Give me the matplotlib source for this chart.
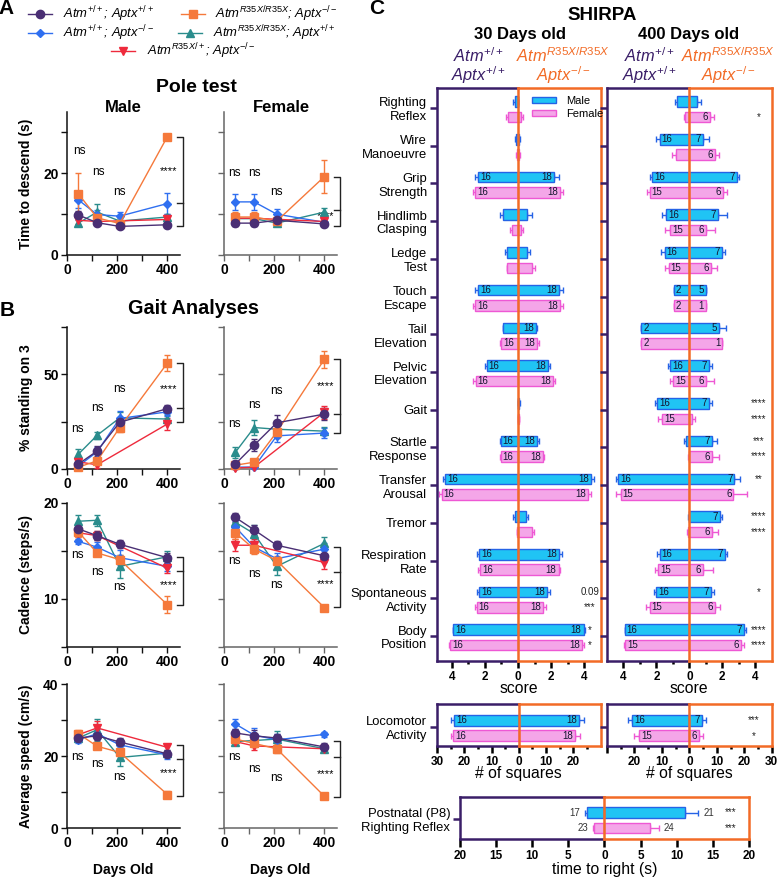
import numpy as np
import matplotlib as mpl
mpl.rcParams['font.family'] = 'Liberation Sans'
mpl.rcParams['mathtext.fontset'] = 'custom'
mpl.rcParams['mathtext.rm'] = 'Liberation Sans'
mpl.rcParams['mathtext.it'] = 'Liberation Sans:italic'
mpl.rcParams['mathtext.bf'] = 'Liberation Sans:bold'
from matplotlib import pyplot as plt
from matplotlib.lines import Line2D
from matplotlib.patches import Patch

W, H = 778, 882

# ---------------- A/B: time courses ----------------
days = [45, 120, 210, 400]
days_het = [45, 120, 400]
# order: Atm+/+;Aptx+/+ | Atm+/+;Aptx-/- | AtmR35X/R35X;Aptx-/- | AtmR35X/R35X;Aptx+/+ | AtmR35X/+;Aptx-/-
geno = [r'$Atm^{+/+}$; $Aptx^{+/+}$', r'$Atm^{+/+}$; $Aptx^{-/-}$',
        r'$Atm^{R35X/R35X}$; $Aptx^{-/-}$', r'$Atm^{R35X/R35X}$; $Aptx^{+/+}$',
        r'$Atm^{R35X/+}$; $Aptx^{-/-}$']

pole_m = [[9.8, 7.9, 7.0, 7.4], [13.5, 9.9, 9.5, 12.6], [15.0, 9.1, 7.7, 29.0],
          [7.8, 10.5, 8.3, 9.3], [8.5, 8.2, 8.7]]
pole_m_err = [[1.0, 0.6, 0.5, 0.5], [2.0, 1.2, 1.0, 2.5], [5.0, 1.0, 0.8, 0.7],
              [0.8, 2.0, 0.8, 0.8], [0.8, 0.8, 1.0]]
pole_f = [[7.8, 7.8, 8.5, 7.6], [13.0, 13.0, 10.0, 8.0], [9.3, 9.3, 8.3, 19.2],
          [8.9, 8.9, 7.8, 10.5], [9.0, 9.0, 8.2]]
pole_f_err = [[0.6, 0.6, 0.6, 0.5], [2.0, 2.0, 1.2, 0.8], [1.2, 1.2, 0.6, 4.0],
              [1.5, 1.5, 0.8, 1.0], [1.0, 1.0, 0.6]]

gait_m = [[2.6, 9.5, 24.7, 31.9], [1.5, 9.1, 26.7, 30.2], [1.0, 4.3, 21.9, 56.0],
          [7.8, 17.8, 27.0, 26.4], [3.8, 2.2, 23.8]]
gait_m_err = [[1.5, 2.5, 2.5, 2.0], [1.0, 2.5, 4.0, 2.0], [0.5, 1.5, 2.5, 4.0],
              [2.5, 2.0, 3.0, 2.0], [1.0, 1.5, 3.0]]
gait_f = [[2.6, 12.6, 24.4, 29.0], [1.0, 1.0, 17.5, 19.0], [2.0, 3.6, 19.5, 58.0],
          [8.8, 21.9, 21.0, 20.0], [0.5, 1.0, 30.0]]
gait_f_err = [[1.0, 3.0, 4.0, 3.0], [0.5, 0.5, 3.0, 2.5], [0.5, 1.0, 3.0, 4.5],
              [3.0, 4.0, 3.0, 2.0], [0.5, 0.5, 3.5]]

cad_m = [[17.3, 16.6, 15.7, 14.3], [16.0, 15.4, 14.3, 13.4], [17.0, 14.8, 14.1, 9.4],
         [18.1, 18.2, 13.4, 14.4], [16.9, 16.6, 13.2]]
cad_m_err = [[0.4, 0.5, 0.4, 0.5], [0.3, 0.5, 0.8, 0.5], [0.5, 0.3, 0.5, 0.9],
             [0.6, 0.6, 1.2, 0.6], [0.4, 0.5, 0.5]]
cad_f = [[18.5, 17.2, 15.6, 14.5], [17.5, 15.4, 14.2, 15.2], [16.9, 15.2, 14.0, 9.1],
         [18.0, 16.8, 13.4, 15.8], [15.6, 15.6, 13.8]]
cad_f_err = [[0.5, 0.5, 0.4, 0.6], [0.6, 0.6, 0.6, 0.6], [0.7, 0.5, 0.5, 0.3],
             [0.7, 0.9, 0.9, 0.7], [0.6, 0.6, 0.7]]

spd_m = [[25.0, 25.6, 23.9, 20.6], [24.5, 26.2, 23.1, 20.3], [26.2, 22.7, 21.0, 9.3],
         [25.0, 27.3, 19.6, 20.8], [25.9, 27.8, 22.4]]
spd_m_err = [[0.8, 1.2, 1.0, 1.0], [1.0, 1.2, 1.5, 1.2], [1.0, 0.8, 1.0, 0.9],
             [0.8, 3.0, 2.5, 0.8], [1.0, 1.8, 1.0]]
spd_f = [[26.4, 25.6, 25.0, 22.5], [28.9, 25.8, 24.5, 26.0], [24.7, 23.5, 22.0, 8.8],
         [24.0, 24.3, 24.7, 22.0], [24.0, 22.8, 22.0]]
spd_f_err = [[1.0, 1.5, 1.0, 1.0], [1.5, 2.0, 1.5, 0.6], [1.0, 1.0, 1.2, 0.6],
             [1.0, 1.0, 2.3, 1.0], [1.0, 1.0, 1.0]]

# ---------------- C: SHIRPA ----------------
cats = ['Righting\nReflex', 'Wire\nManoeuvre', 'Grip\nStrength', 'Hindlimb\nClasping',
        'Ledge\nTest', 'Touch\nEscape', 'Tail\nElevation', 'Pelvic\nElevation', 'Gait',
        'Startle\nResponse', 'Transfer\nArousal', 'Tremor', 'Respiration\nRate',
        'Spontaneous\nActivity', 'Body\nPosition']

# 30 days: L = Atm+/+ Aptx+/+ (plotted leftwards), R = AtmR35X/R35X Aptx-/-
s30_mL = [0.2, 0.1, 2.4, 0.9, 0.65, 2.4, 0.93, 1.9, 0.0, 1.05, 4.42, 0.18, 2.36, 2.36, 3.92]
s30_mL_err = [0.1, 0.1, 0.2, 0.2, 0.15, 0.2, 0.0, 0.1, 0.0, 0.05, 0.13, 0.12, 0.14, 0.14, 0.0]
s30_mR = [0.0, 0.05, 2.2, 0.57, 0.57, 2.5, 1.09, 1.84, 0.05, 1.13, 4.42, 0.48, 2.5, 1.74, 3.96]
s30_mR_err = [0.0, 0.05, 0.25, 0.25, 0.13, 0.2, 0.06, 0.11, 0.05, 0.12, 0.18, 0.14, 0.15, 0.2, 0.09]
s30_fL = [0.6, 0.05, 2.6, 0.38, 0.69, 2.6, 1.0, 2.56, 0.0, 1.05, 4.62, 0.05, 2.3, 2.5, 4.12]
s30_fL_err = [0.1, 0.05, 0.15, 0.12, 0.0, 0.15, 0.1, 0.14, 0.0, 0.05, 0.15, 0.03, 0.1, 0.1, 0.08]
s30_fR = [0.15, 0.05, 2.55, 0.16, 0.83, 2.55, 1.13, 2.1, 0.05, 1.5, 4.22, 0.83, 2.45, 1.54, 3.86]
s30_fR_err = [0.15, 0.05, 0.2, 0.14, 0.17, 0.15, 0.12, 0.15, 0.03, 0.1, 0.18, 0.14, 0.1, 0.16, 0.1]
n30_mL = ['', '', '16', '', '', '16', '', '16', '', '16', '16', '', '16', '16', '16']
n30_mR = ['', '', '18', '', '', '18', '18', '18', '', '18', '18', '', '18', '18', '18']
n30_fL = ['', '', '16', '', '', '16', '16', '16', '', '16', '16', '', '16', '16', '16']
n30_fR = ['', '', '18', '', '', '18', '18', '18', '', '18', '18', '', '18', '18', '18']
p30_m = ['', '', '', '', '', '', '', '', '', '', '', '', '', '0.09', '*']
p30_f = ['', '', '', '', '', '', '', '', '', '', '', '', '', '***', '*']

s400_mL = [0.75, 1.8, 2.26, 1.39, 1.5, 0.95, 2.93, 1.15, 1.96, 0.22, 4.32, 0.05, 1.8, 2.0, 3.92]
s400_mL_err = [0.1, 0.2, 0.14, 0.26, 0.2, 0.0, 0.0, 0.15, 0.14, 0.13, 0.16, 0.05, 0.16, 0.15, 0.0]
s400_mR = [0.47, 0.83, 2.89, 1.74, 2.0, 1.0, 1.82, 1.17, 1.17, 1.37, 2.74, 1.88, 2.14, 1.31, 3.29]
s400_mR_err = [0.23, 0.37, 0.11, 0.56, 0.16, 0.0, 0.38, 0.18, 0.18, 0.3, 0.34, 0.12, 0.16, 0.21, 0.16]
s400_fL = [0.24, 0.83, 2.4, 1.15, 1.25, 0.95, 2.93, 1.0, 1.66, 0.05, 4.18, 0.1, 1.9, 2.4, 3.88]
s400_fL_err = [0.11, 0.22, 0.2, 0.35, 0.25, 0.0, 0.0, 0.15, 0.24, 0.05, 0.3, 0.05, 0.16, 0.25, 0.1]
s400_fR = [1.27, 1.53, 2.04, 1.0, 1.3, 1.0, 2.0, 1.0, 0.16, 1.37, 2.68, 1.39, 0.83, 1.53, 3.15]
s400_fR_err = [0.23, 0.27, 0.26, 0.55, 0.4, 0.0, 0.0, 0.5, 0.2, 0.4, 0.82, 0.35, 0.61, 0.34, 0.15]
n400_mL = ['', '16', '16', '16', '16', '2', '2', '16', '16', '', '16', '', '16', '16', '16']
n400_mR = ['', '7', '7', '7', '7', '5', '5', '7', '7', '7', '7', '7', '7', '7', '7']
n400_fL = ['', '', '15', '15', '15', '2', '2', '15', '15', '', '15', '', '15', '15', '15']
n400_fR = ['6', '6', '6', '6', '6', '1', '1', '6', '', '6', '6', '6', '6', '6', '6']
p400_m = ['', '', '', '', '', '', '', '', '****', '***', '**', '****', '', '*', '****']
p400_f = ['*', '', '', '', '', '', '', '', '****', '****', '', '****', '', '', '****']

# locomotor activity (# of squares)
loco30 = [23.9, 22.2, 24.1, 20.7]          # mL, mR, fL, fR
loco30_err = [0.8, 1.5, 0.9, 1.8]
loco30_n = ['16', '18', '16', '18']
loco400 = [20.9, 4.5, 18.2, 3.6]
loco400_err = [1.6, 1.5, 1.8, 1.3]
loco400_n = ['16', '7', '15', '6']
loco400_p = ['***', '*']

# postnatal P8 righting reflex (s)
p8 = [2.4, 11.1, 1.5, 6.36]
p8_err = [0.3, 1.9, 0.1, 1.14]
p8_n = ['17', '21', '23', '24']
p8_p = ['***', '***']

# ---------------- styles ----------------
COLS = ['#4a2f74', '#2f6ff0', '#f5793b', '#2a8c8c', '#ee2a3c']
MARKS = ['o', 'D', 's', '^', 'v']
MSZ = [6, 4.5, 6, 6, 6]
PURP = '#3a1e68'
ORNG = '#f26b26'
MFC, MEC = '#20c4f4', '#2563e6'
FFC, FEC = '#f4a6e8', '#ee58d4'

fig = plt.figure(figsize=(W / 100, H / 100), dpi=100)


def px_ax(l, t, r, b):
    return fig.add_axes([l / W, 1 - b / H, (r - l) / W, (b - t) / H])


def ftext(x, y, s, **kw):
    fig.text(x / W, 1 - y / H, s, **kw)


def time_panel(ax, vals, errs, ylim, yt, ylab, female, bottom):
    for g in [3, 1, 4, 2, 0]:
        x = days_het if g == 4 else days
        ax.errorbar(x, vals[g], yerr=errs[g], color=COLS[g], marker=MARKS[g], ms=MSZ[g],
                    mec=COLS[g], lw=1, elinewidth=1, capsize=2.5, capthick=1,
                    clip_on=False, zorder=3)
    ax.set_xlim(0, 450)
    ax.set_ylim(*ylim)
    ax.set_xticks([0, 200, 400])
    ax.set_xticks([100, 300], minor=True)
    ax.set_yticks(yt)
    ax.set_yticklabels(ylab)
    sc = '#666666' if female else '#111111'
    for s in ['top', 'right']:
        ax.spines[s].set_visible(False)
    for s in ['left', 'bottom']:
        ax.spines[s].set_color(sc)
        ax.spines[s].set_linewidth(1.1)
    ax.tick_params(which='both', direction='out', length=4, width=1.0, color=sc,
                   labelsize=10, pad=2)
    for lab in ax.get_xticklabels() + ax.get_yticklabels():
        lab.set_fontweight('bold')
    if female:
        ax.tick_params(labelleft=False)
    if bottom:
        ax.set_xlabel('Days Old', fontsize=10, fontweight='bold')
        ax.xaxis.set_label_coords(0.5, -0.245)


def bracket(ax, top, mid, bot, sy):
    ax.plot([440, 461, 461, 440], [top, top, bot, bot], color='#222222', lw=1, clip_on=False)
    ax.plot([440, 461], [mid, mid], color='#222222', lw=1, clip_on=False)
    ax.text(404, sy, '****', ha='center', va='center', fontsize=8)


def ns(ax, pts):
    for x, y in pts:
        ax.text(x, y, 'ns', ha='center', va='center', fontsize=8.5)


male_x = (67, 180)
fem_x = (224, 337)
rows = [(112, 255), (327, 469), (503, 647), (684, 828)]

panels = [
    (pole_m, pole_m_err, pole_f, pole_f_err, (0, 35), [0, 10, 20, 30], ['0', '', '20', ''],
     'Time to descend (s)',
     [(48, 25.5), (125, 20.2), (210, 15.5)], (29.0, 12.8, 7.0, 20.6),
     [(40, 20.0), (120, 20.0), (210, 15.5)], (19.2, 11.0, 7.2, 9.6)),
    (gait_m, gait_m_err, gait_f, gait_f_err, (0, 75), [0, 25, 50, 75], ['0', '', '50', ''],
     '% standing on 3',
     [(40, 21), (120, 32), (210, 42.3)], (55.9, 32.4, 24.6, 42.3),
     [(40, 24), (120, 34), (210, 41)], (58, 29, 19, 43.7)),
    (cad_m, cad_m_err, cad_f, cad_f_err, (5, 20), [5, 10, 15, 20], ['', '10', '', '20'],
     'Cadence (steps/s)',
     [(40, 14.6), (120, 12.8), (210, 11.25)], (14.4, 12.9, 9.4, 11.5),
     [(40, 14.0), (120, 12.6), (210, 11.5)], (15.4, 12.8, 9.2, 11.6)),
    (spd_m, spd_m_err, spd_f, spd_f_err, (0, 40), [0, 10, 20, 30, 40], ['0', '', '20', '', '40'],
     'Average speed (cm/s)',
     [(40, 19.8), (120, 17.8), (210, 14.3)], (23.0, 19.2, 9.0, 15.3),
     [(40, 19.8), (120, 16.5), (210, 13.9)], (24.2, 19.6, 8.6, 15.0)),
]

for i, (vm, em, vf, ef, yl, yt, ylab, ylabel, nsm, brm, nsf, brf) in enumerate(panels):
    t, b = rows[i]
    axm = px_ax(male_x[0], t, male_x[1], b)
    time_panel(axm, vm, em, yl, yt, ylab, False, i == 3)
    axm.set_ylabel(ylabel, fontsize=10, fontweight='bold')
    axm.yaxis.set_label_coords(-0.30, 0.5)
    ns(axm, nsm)
    bracket(axm, *brm)
    axf = px_ax(fem_x[0], t, fem_x[1], b)
    time_panel(axf, vf, ef, yl, yt, ylab, True, i == 3)
    ns(axf, nsf)
    bracket(axf, *brf)

# titles and legend
ftext(196, 87, 'Pole test', ha='center', va='center', fontsize=14, fontweight='bold')
ftext(123, 107, 'Male', ha='center', va='center', fontsize=12, fontweight='bold')
ftext(281, 107, 'Female', ha='center', va='center', fontsize=12, fontweight='bold')
ftext(193, 309, 'Gait Analyses', ha='center', va='center', fontsize=14.3, fontweight='bold')
ftext(6, 9, 'A', ha='center', va='center', fontsize=15, fontweight='bold')
ftext(7, 311, 'B', ha='center', va='center', fontsize=15, fontweight='bold')
ftext(377, 9, 'C', ha='center', va='center', fontsize=15, fontweight='bold')

leg_pos = [(40, 14, 63), (40, 33, 63), (193, 14, 215), (190, 33, 213), (123, 51, 147)]
for g, (mx, my, tx) in enumerate(leg_pos):
    fig.add_artist(Line2D([(mx - 12) / W, (mx + 12) / W], [1 - my / H] * 2, color=COLS[g], lw=1))
    fig.add_artist(Line2D([mx / W], [1 - my / H], color=COLS[g], marker=MARKS[g], ms=MSZ[g],
                          mec=COLS[g], lw=0))
    ftext(tx, my, geno[g], ha='left', va='center', fontsize=9.4, fontstyle='italic')

# ---------------- SHIRPA ----------------


def split_box(ax, xlim, cat_labels, yl):
    x0, x1 = xlim
    ax.set_xlim(x0, x1)
    ax.set_ylim(*yl)
    for s in ['top', 'right', 'bottom']:
        ax.spines[s].set_visible(False)
    ax.spines['left'].set_color(PURP)
    ax.spines['left'].set_linewidth(1.8)
    tr = ax.get_xaxis_transform()
    kw = dict(transform=tr, clip_on=False, lw=1.8, solid_capstyle='projecting', zorder=5)
    ax.plot([x0, 0], [1, 1], color=PURP, **kw)
    ax.plot([x0, 0], [0, 0], color=PURP, **kw)
    ax.plot([0, x1], [1, 1], color=ORNG, **kw)
    ax.plot([0, x1], [0, 0], color=ORNG, **kw)
    ax.plot([x1, x1], [0, 1], color=ORNG, **kw)
    ax.plot([0, 0], [0, 1], color=ORNG, transform=tr, clip_on=False, lw=1.8, zorder=5)
    ax.tick_params(axis='y', color=PURP, width=1.8, length=5, labelsize=9.4, pad=2)
    ax.set_yticks(range(len(cat_labels)))
    if cat_labels[0]:
        ax.set_yticklabels(cat_labels, ha='right', multialignment='right')
    else:
        ax.set_yticklabels([])


def color_xticks(ax, major, minor, shown):
    ax.set_xticks(major)
    ax.set_xticks(minor, minor=True)
    ax.set_xticklabels([('%d' % abs(v)) if v in shown else '' for v in major])
    ax.tick_params(axis='x', which='major', length=5, width=1.8, labelsize=8.5, pad=2)
    ax.tick_params(axis='x', which='minor', length=2.5, width=1.8)
    for tk, v in zip(ax.xaxis.get_major_ticks(), major):
        tk.tick1line.set_color(PURP if v < 0 else ORNG)
    for tk, v in zip(ax.xaxis.get_minor_ticks(), minor):
        tk.tick1line.set_color(PURP if v < 0 else ORNG)
    for lab in ax.get_xticklabels():
        lab.set_fontweight('bold')


def pair_bars(ax, yc, L, Le, R, Re, nL, nR, off, fc, ec, pad, h=0.28):
    y = np.asarray(yc, dtype=float) + off
    L = np.asarray(L, dtype=float)
    R = np.asarray(R, dtype=float)
    z = np.zeros_like(L)
    ax.errorbar(-L, y, xerr=[Le, z], fmt='none', ecolor=ec, elinewidth=1, capsize=2.4,
                capthick=1, zorder=2)
    ax.errorbar(R, y, xerr=[z, Re], fmt='none', ecolor=ec, elinewidth=1, capsize=2.4,
                capthick=1, zorder=2)
    ax.barh(y, -L, height=h, color=fc, edgecolor=ec, lw=1, zorder=3)
    ax.barh(y, R, height=h, color=fc, edgecolor=ec, lw=1, zorder=3)
    for yi, l, r, a, b in zip(y, L, R, nL, nR):
        if a:
            ax.text(-l + pad, yi, a, ha='left', va='center', fontsize=7, color='#151530', zorder=4)
        if b:
            ax.text(r - pad, yi, b, ha='right', va='center', fontsize=7, color='#151530', zorder=4)


def pvals(ax, yc, labs, off, x):
    for yi, s in zip(yc, labs):
        if s:
            ax.text(x, yi + off, s, ha='center', va='center', fontsize=7, color='#222222')


ycat = list(range(len(cats)))
score_ylim = (14.66, -0.53)
M_OFF, F_OFF = -0.17, 0.24

ax30 = px_ax(437, 88, 600.7, 661)
split_box(ax30, (-4.9, 5.0), cats, score_ylim)
pair_bars(ax30, ycat, s30_mL, s30_mL_err, s30_mR, s30_mR_err, n30_mL, n30_mR, M_OFF, MFC, MEC, 0.12)
pair_bars(ax30, ycat, s30_fL, s30_fL_err, s30_fR, s30_fR_err, n30_fL, n30_fR, F_OFF, FFC, FEC, 0.12)
pvals(ax30, ycat, p30_m, M_OFF, 4.35)
pvals(ax30, ycat, p30_f, F_OFF, 4.35)
color_xticks(ax30, [-4, -2, 0, 2, 4], [-3, -1, 1, 3], [-4, -2, 0, 2, 4])
ax30.set_xlabel('score', fontsize=11.3, labelpad=-1)
ax30.legend(handles=[Patch(fc=MFC, ec=MEC, lw=1), Patch(fc=FFC, ec=FEC, lw=1)],
            labels=['Male', 'Female'], loc='upper left', bbox_to_anchor=(0.53, 1.0),
            frameon=False, fontsize=8, handlelength=2.2, handleheight=0.45,
            labelspacing=0.25, borderpad=0.2, handletextpad=0.9)

ax400 = px_ax(607, 88, 771.7, 661)
split_box(ax400, (-5.0, 5.0), [''] * len(cats), score_ylim)
pair_bars(ax400, ycat, s400_mL, s400_mL_err, s400_mR, s400_mR_err, n400_mL, n400_mR, M_OFF, MFC, MEC, 0.12)
pair_bars(ax400, ycat, s400_fL, s400_fL_err, s400_fR, s400_fR_err, n400_fL, n400_fR, F_OFF, FFC, FEC, 0.12)
pvals(ax400, ycat, p400_m, M_OFF, 4.2)
pvals(ax400, ycat, p400_f, F_OFF, 4.2)
color_xticks(ax400, [-4, -2, 0, 2, 4], [-3, -1, 1, 3], [-4, -2, 0, 2, 4])
ax400.set_xlabel('score', fontsize=11.3, labelpad=-1)

# locomotor activity
loco_ylim = (0.51, -0.60)
axl30 = px_ax(437, 704, 600.7, 746)
split_box(axl30, (-30, 30), ['Locomotor\nActivity'], loco_ylim)
pair_bars(axl30, [0], [loco30[0]], [loco30_err[0]], [loco30[1]], [loco30_err[1]],
          [loco30_n[0]], [loco30_n[1]], M_OFF, MFC, MEC, 0.8)
pair_bars(axl30, [0], [loco30[2]], [loco30_err[2]], [loco30[3]], [loco30_err[3]],
          [loco30_n[2]], [loco30_n[3]], F_OFF, FFC, FEC, 0.8)
color_xticks(axl30, [-30, -20, -10, 0, 10, 20], [-25, -15, -5, 5, 15, 25],
             [-30, -20, -10, 0, 10, 20])
axl30.set_xlabel('# of squares', fontsize=11.3, labelpad=-1)

axl400 = px_ax(607, 704, 771.7, 746)
split_box(axl400, (-30, 30), [''], loco_ylim)
pair_bars(axl400, [0], [loco400[0]], [loco400_err[0]], [loco400[1]], [loco400_err[1]],
          [loco400_n[0]], [loco400_n[1]], M_OFF, MFC, MEC, 0.8)
pair_bars(axl400, [0], [loco400[2]], [loco400_err[2]], [loco400[3]], [loco400_err[3]],
          [loco400_n[2]], [loco400_n[3]], F_OFF, FFC, FEC, 0.8)
pvals(axl400, [0], [loco400_p[0]], M_OFF, 23.3)
pvals(axl400, [0], [loco400_p[1]], F_OFF, 23.3)
color_xticks(axl400, [-30, -20, -10, 0, 10, 20, 30], [-25, -15, -5, 5, 15, 25],
             [-20, -10, 0, 10, 20, 30])
axl400.set_xlabel('# of squares', fontsize=11.3, labelpad=-1)

# postnatal righting reflex
axp = px_ax(460, 797, 749, 839)
split_box(axp, (-20, 20), ['Postnatal (P8)\nRighting Reflex'], (0.53, -0.58))
for k, (off, fc, ec) in enumerate([(M_OFF, MFC, MEC), (F_OFF, FFC, FEC)]):
    l, r = p8[2 * k], p8[2 * k + 1]
    le, re = p8_err[2 * k], p8_err[2 * k + 1]
    pair_bars(axp, [0], [l], [le], [r], [re], [''], [''], off, fc, ec, 0.5)
    axp.text(-(l + le) - 0.7, off, p8_n[2 * k], ha='right', va='center', fontsize=7, color='#333333')
    axp.text(r + re + 0.7, off, p8_n[2 * k + 1], ha='left', va='center', fontsize=7, color='#333333')
    axp.text(17.4, off, p8_p[k], ha='center', va='center', fontsize=7, color='#222222')
color_xticks(axp, [-20, -15, -10, -5, 0, 5, 10, 15, 20], [], [-20, -15, -10, -5, 0, 5, 10, 15, 20])
axp.tick_params(axis='x', which='major', length=6)
axp.set_xlabel('time to right (s)', fontsize=11.3, labelpad=0)

# SHIRPA headers
ftext(602, 16, 'SHIRPA', ha='center', va='center', fontsize=13.5, fontweight='bold')
ftext(520, 35, '30 Days old', ha='center', va='center', fontsize=12, fontweight='bold')
ftext(689, 35, '400 Days old', ha='center', va='center', fontsize=12, fontweight='bold')
for cx_p, cx_o in [(478, 563), (649, 728)]:
    ftext(cx_p, 56, r'$Atm^{+/+}$', ha='center', va='center', fontsize=11.8, color=PURP)
    ftext(cx_p, 75, r'$Aptx^{+/+}$', ha='center', va='center', fontsize=11.8, color=PURP)
    ftext(cx_o, 56, r'$Atm^{R35X/R35X}$', ha='center', va='center', fontsize=11.8, color=ORNG)
    ftext(cx_o, 75, r'$Aptx^{-/-}$', ha='center', va='center', fontsize=11.8, color=ORNG)

plt.savefig('out.png', dpi=100)
